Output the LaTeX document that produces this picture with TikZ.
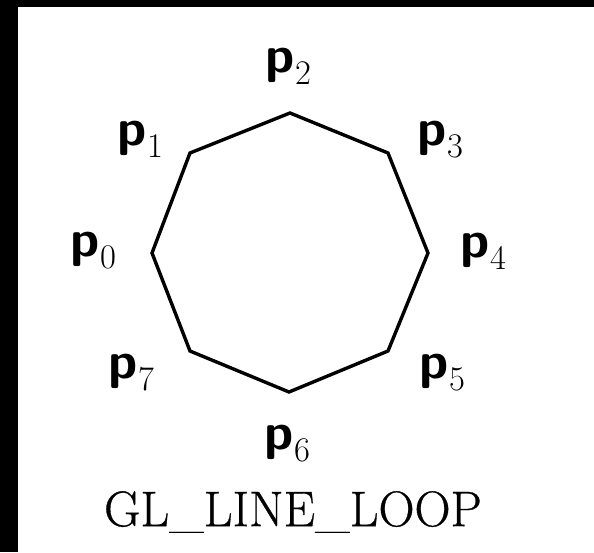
\documentclass[tikz,border=0pt]{standalone}
\usepackage{fontspec}
\usepackage{tikz}
\newfontfamily\capfont{Latin Modern Roman}[FakeBold=0.6]

\begin{document}
\begin{tikzpicture}[
  x=0.5pt, y=-0.5pt,
  ptlabel/.style={font=\fontsize{26}{30}\selectfont, inner sep=0pt},
  loopline/.style={draw, line width=1.7pt, line join=miter},
  caption/.style={font=\capfont\fontsize{25}{30}\selectfont, inner sep=0pt}
]
\fill[black] (0,0) rectangle (594,552);
\fill[white] (18,7) rectangle (594,552);
% vertices of the loop
\foreach \i/\x/\y in {0/152/253, 1/190/153, 2/290/113, 3/388/153,
                      4/428/253, 5/388/351, 6/289/392, 7/190/351}{
  \coordinate (v\i) at (\x,\y);
}
\draw[loopline] (v0) -- (v1) -- (v2) -- (v3) -- (v4) -- (v5) -- (v6) -- (v7) -- cycle;
% point labels
\foreach \i/\x/\y in {0/94/250, 1/141/139, 2/289/66, 3/441/139,
                      4/484/251, 5/443/372, 6/288/443, 7/132/372}{
  \node[ptlabel] (p\i) at (\x,\y) {$\textsf{\textbf{p}}_{\i}$};
}
\node[caption] (title) at (293,512) {GL\_LINE\_LOOP};
\end{tikzpicture}
\end{document}
